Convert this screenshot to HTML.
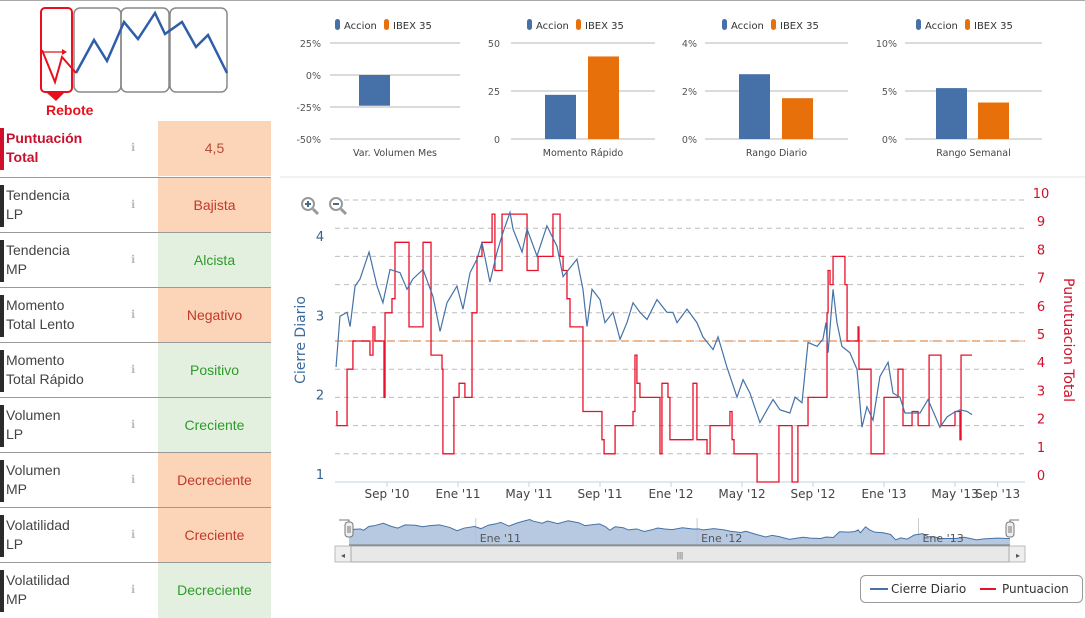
<!DOCTYPE html>
<html><head><meta charset="utf-8">
<style>
html,body{margin:0;padding:0;background:#fff;}
body{width:1085px;height:609px;position:relative;overflow:hidden;font-family:"Liberation Sans","DejaVu Sans",sans-serif;}
.row{position:absolute;left:0;width:271px;height:55px;border-top:1px solid #9a9a9a;}
.bar{position:absolute;left:0;top:7px;width:4px;height:42px;background:#2b2b2b;}
.lbl{position:absolute;left:6px;top:8px;line-height:19px;color:#444;font-family:"Liberation Sans",sans-serif;font-size:14px;}
.info{position:absolute;left:131px;top:20px;font-size:11px;color:#bbb;}
.val{position:absolute;left:158px;top:0;width:113px;height:55px;line-height:55px;text-align:center;font-family:"Liberation Sans",sans-serif;font-size:14px;}
.neg{background:#fcd5b8;color:#c0392b;}
.pos{background:#e3f0df;color:#2e9a2a;}
</style></head><body>
<div style="position:absolute;left:0;top:0;width:1085px;height:1px;background:#aaa"></div>

<svg style="position:absolute;left:0;top:0" width="240" height="120">
<rect x="74" y="8" width="47" height="84" rx="6" fill="none" stroke="#888" stroke-width="1.5"/>
<rect x="121" y="8" width="48" height="84" rx="6" fill="none" stroke="#888" stroke-width="1.5"/>
<rect x="170" y="8" width="57" height="84" rx="6" fill="none" stroke="#888" stroke-width="1.5"/>
<rect x="41" y="8" width="31" height="84" rx="4" fill="none" stroke="#e8101c" stroke-width="2"/>
<polygon points="47,93 64,93 56,101" fill="#e8101c"/>
<polyline points="76,73 94,40 107,61 124,22 138,39 155,13 165,34 182,22 196,47 208,35 227,73" fill="none" stroke="#2f5ea8" stroke-width="2.5"/>
<polyline points="42,50 55,82 62,57 76,73" fill="none" stroke="#e8101c" stroke-width="2"/>
<line x1="43" y1="52" x2="65" y2="52" stroke="#e8101c" stroke-width="1.3"/>
<polygon points="67,52 62,49 62,55" fill="#e8101c"/>
<text x="46" y="115" font-size="14" font-weight="bold" fill="#e8101c" font-family="Liberation Sans, sans-serif">Rebote</text>
</svg>

<div class="row" style="top:121px;border-top:none">
 <div class="bar" style="background:#d0102a"></div>
 <div class="lbl" style="color:#c8102e;font-weight:bold;font-size:14px">Puntuación<br>Total</div>
 <div class="info">ℹ</div>
 <div class="val neg" style="color:#b84a3a">4,5</div>
</div>
<div class="row" style="top:177px"><div class="bar"></div><div class="lbl">Tendencia<br>LP</div><div class="info">ℹ</div><div class="val neg">Bajista</div></div>
<div class="row" style="top:232px"><div class="bar"></div><div class="lbl">Tendencia<br>MP</div><div class="info">ℹ</div><div class="val pos">Alcista</div></div>
<div class="row" style="top:287px"><div class="bar"></div><div class="lbl">Momento<br>Total Lento</div><div class="info">ℹ</div><div class="val neg">Negativo</div></div>
<div class="row" style="top:342px"><div class="bar"></div><div class="lbl">Momento<br>Total Rápido</div><div class="info">ℹ</div><div class="val pos">Positivo</div></div>
<div class="row" style="top:397px"><div class="bar"></div><div class="lbl">Volumen<br>LP</div><div class="info">ℹ</div><div class="val pos">Creciente</div></div>
<div class="row" style="top:452px"><div class="bar"></div><div class="lbl">Volumen<br>MP</div><div class="info">ℹ</div><div class="val neg">Decreciente</div></div>
<div class="row" style="top:507px"><div class="bar"></div><div class="lbl">Volatilidad<br>LP</div><div class="info">ℹ</div><div class="val neg">Creciente</div></div>
<div class="row" style="top:562px"><div class="bar"></div><div class="lbl">Volatilidad<br>MP</div><div class="info">ℹ</div><div class="val pos">Decreciente</div></div>

<svg id="main" style="position:absolute;left:0;top:0" width="1085" height="609"></svg>

<script>
// ---- small bar charts data ----
const smallTitles = ["Var. Volumen Mes","Momento Rápido","Rango Diario","Rango Semanal"];
const smallAccion = [-24, 23, 2.7, 5.3];
const smallIbex = [null, 43, 1.7, 3.8];
const smallTicks = [[25,0,-25,-50],[50,25,0],[4,2,0],[10,5,0]];
const smallTickSuffix = ["%","","%","%"];

// ---- main chart data (months from Sep 2010) ----
const cierreMonths = [-2.87,-2.65,-2.25,-2.08,-1.8,-1.52,-1.01,-0.56,-0.23,0.17,0.73,1.13,1.46,2.03,2.59,2.99,3.38,3.94,4.28,4.68,5.07,5.35,5.8,6.2,6.54,6.93,7.1,7.61,7.89,8.45,9.01,9.58,9.92,10.7,11.04,11.27,11.55,12.0,12.28,12.73,13.13,13.52,13.86,14.25,14.65,15.21,15.77,16.11,16.34,16.9,17.46,17.8,18.37,18.65,19.15,19.72,20.06,20.45,21.01,21.41,21.75,22.14,22.7,22.99,23.38,23.72,24.23,24.56,24.73,24.85,25.13,25.35,25.63,26.08,26.48,26.76,27.04,27.38,27.77,28.23,28.51,28.9,29.18,29.63,30.03,30.48,31.15,31.55,31.89,32.28,32.68,32.96];
const cierreValues = [2.45,3.09,3.14,2.96,3.47,3.56,3.9,3.47,3.26,3.68,3.64,3.43,3.56,3.68,3.34,2.9,3.26,3.47,3.18,3.64,3.81,4.02,3.52,3.9,4.15,4.4,4.19,3.9,4.19,3.85,4.23,3.97,3.59,3.81,3.43,2.96,3.43,3.3,3.01,3.14,2.8,3.01,3.26,3.14,3.05,3.3,3.14,3.14,3.01,3.18,3.01,2.83,2.67,2.83,2.45,2.07,2.29,2.12,1.75,1.91,2.04,1.91,1.87,2.07,2.0,2.76,2.71,2.8,3.01,2.63,3.43,3.01,2.71,2.63,2.42,1.69,1.95,1.78,2.33,2.51,2.12,2.07,1.87,1.87,1.87,2.04,1.69,1.82,1.87,1.91,1.89,1.85];
const puntMonths = [-2.87,-2.82,-2.25,-1.92,-0.96,-0.79,-0.68,-0.17,-0.11,0.28,0.45,1.24,2.03,2.48,3.1,3.15,3.77,4.06,4.39,4.79,5.07,5.35,5.92,6.08,6.48,7.89,8.51,9.35,9.75,9.92,10.14,10.31,11.04,12.11,12.23,12.85,13.86,13.97,14.08,14.25,15.38,15.49,15.83,15.94,17.24,17.46,18.03,18.2,19.32,19.44,19.55,20.85,22.08,22.82,23.15,23.72,24.79,24.85,24.96,25.13,25.8,25.92,26.54,26.59,27.27,28.0,28.79,29.07,29.58,29.92,30.54,31.21,32.0,32.28,32.34];
const puntValues = [2.5,2,4,5,4.5,5.5,5,3,6,6.5,8.5,5.5,8.5,4.5,4,1,3,3.5,3,6,8,8.5,9.5,7.5,9.5,7.5,8,9.5,8,7.5,6.5,5.5,2.5,1.5,1,2,2.5,4.5,3.5,3,1,3.5,3,1.5,3.5,1.5,1,2,2.5,1.5,1,0,2,0,2,3,6,7.5,7,8,7,5,5.5,4,1,3,4,2,2.5,2,4.5,2,2.5,1.5,4.5];
const puntEnd = 32.96;
const xTickMonths = [0,4,8,12,16,20,24,28,32,34.4];
const xTickLabels = ["Sep '10","Ene '11","May '11","Sep '11","Ene '12","May '12","Sep '12","Ene '13","May '13","Sep '13"];
const leftTicks = [1,2,3,4];
const rightTicks = [0,1,2,3,4,5,6,7,8,9,10];
const refLine = 5;
const navLabelMonths = [4,16,28];
const navLabels = ["Ene '11","Ene '12","Ene '13"];

const NS="http://www.w3.org/2000/svg";
const svg=document.getElementById('main');
function mk(tag,attrs,parent){const e=document.createElementNS(NS,tag);for(const k in attrs)e.setAttribute(k,attrs[k]);(parent||svg).appendChild(e);return e;}
function txt(x,y,s,attrs,parent){const e=mk('text',Object.assign({x:x,y:y},attrs),parent);e.textContent=s;return e;}

// ---- small charts ----
const smallGeom=[{x0:330,x1:460,lab:321,leg:335,bA:359,bI:null},{x0:511,x1:655,lab:500,leg:527,bA:545,bI:588},{x0:705,x1:848,lab:697,leg:722,bA:739,bI:782},{x0:905,x1:1042,lab:897,leg:916,bA:936,bI:978}];
smallGeom.forEach((g,i)=>{
  const ticks=smallTicks[i];const tmax=ticks[0],tmin=ticks[ticks.length-1];
  const yTop=43,yBot=139;
  const ys=v=>yTop+(tmax-v)/(tmax-tmin)*(yBot-yTop);
  const grp=mk('g',{});
  
  
  ticks.forEach(t=>{
    const l=mk('line',{x1:g.x0,x2:g.x1,y1:ys(t),y2:ys(t),stroke:'#cfcfcf','stroke-width':1.5},grp);
    
    
    const tt=txt(g.lab,ys(t)+4,t+smallTickSuffix[i],{'text-anchor':'end','font-size':9.5,fill:'#555','font-family':'DejaVu Sans, sans-serif'},grp);
    
    
  });
  const base=ys(Math.max(tmin,Math.min(0,tmax)));
  const va=smallAccion[i];
  const ba=mk('rect',{x:g.bA,width:31,y:Math.min(ys(va),base),height:Math.abs(ys(va)-base),fill:'#4570a8'},grp);
  
  
  if(smallIbex[i]!==null){
    const vi=smallIbex[i];
    const bi=mk('rect',{x:g.bI,width:31,y:Math.min(ys(vi),base),height:Math.abs(ys(vi)-base),fill:'#e8700a'},grp);
    
    
  }
  const c=txt((g.x0+g.x1)/2,156,smallTitles[i],{'text-anchor':'middle','font-size':9.5,fill:'#444','font-family':'DejaVu Sans, sans-serif'},grp);
  
  
  const lg=mk('g',{},grp);
  
  
  mk('rect',{x:g.leg,y:19,width:5,height:11,rx:2.5,fill:'#4570a8'},lg);
  txt(g.leg+9,29,'Accion',{'font-size':10,fill:'#333','font-family':'DejaVu Sans, sans-serif'},lg);
  mk('rect',{x:g.leg+49,y:19,width:5,height:11,rx:2.5,fill:'#e8700a'},lg);
  txt(g.leg+58,29,'IBEX 35',{'font-size':10,fill:'#333','font-family':'DejaVu Sans, sans-serif'},lg);
});
const sep=mk('line',{x1:280,x2:1085,y1:177,y2:177,stroke:'#e4e4e4'});



// ---- main chart axes ----
const PX0=335,PX1=1025,PBOT=482;
const xM=m=>387+m*17.75;
const yL=v=>PBOT-(v-1)*79.3;
const yR=v=>PBOT-v*28.2;
rightTicks.forEach(t=>{
  if(t>0){const l=mk('line',{x1:PX0,x2:PX1,y1:yR(t),y2:yR(t),stroke:'#bdbdbd','stroke-dasharray':'5,4'});
  
  }
  const tl=txt(1041,yR(t)-2,String(t),{'text-anchor':'middle','font-size':13,fill:'#d0102a','font-family':'DejaVu Sans, sans-serif'});
  
  
});
leftTicks.forEach(t=>{
  const tl=txt(320,yL(t)-3,String(t),{'text-anchor':'middle','font-size':13,fill:'#3a5f8f','font-family':'DejaVu Sans, sans-serif'});
  
  
});
const ref=mk('line',{x1:PX0,x2:PX1,y1:yR(refLine),y2:yR(refLine),stroke:'#f0b890','stroke-width':2,'stroke-dasharray':'8,5'});


const xa=mk('line',{x1:PX0,x2:PX1,y1:PBOT,y2:PBOT,stroke:'#c0d0e0'});


xTickMonths.forEach((m,i)=>{
  const x=xM(m);
  mk('line',{x1:x,x2:x,y1:PBOT,y2:PBOT+5,stroke:'#c0d0e0'});
  const tl=txt(x,498,xTickLabels[i],{'text-anchor':'middle','font-size':12,fill:'#444','font-family':'DejaVu Sans, sans-serif'});
  
  
});
const t1=txt(0,0,'Cierre Diario',{transform:'translate(305,340) rotate(-90)','text-anchor':'middle','font-size':14,fill:'#3a6aa0','font-family':'DejaVu Sans, sans-serif'});


const t2=txt(0,0,'Punutuacion Total',{transform:'translate(1064,340) rotate(90)','text-anchor':'middle','font-size':14,fill:'#d0102a','font-family':'DejaVu Sans, sans-serif'});



// series
let d='';
puntMonths.forEach((m,i)=>{
  const x=xM(m),y=yR(puntValues[i]);
  if(i===0)d+='M'+x+','+y;else d+=' H'+x+' V'+y;
});
d+=' H'+xM(puntEnd);
const red=mk('path',{d:d,fill:'none',stroke:'#e8102a','stroke-width':1.3});


const bl=mk('polyline',{points:cierreMonths.map((m,i)=>xM(m)+','+yL(cierreValues[i])).join(' '),fill:'none',stroke:'#4572a7','stroke-width':1.2});



// zoom icons
[309,337].forEach((x,i)=>{
  const g=mk('g',{});
  
  
  mk('line',{x1:x+4,y1:209,x2:x+9,y2:214,stroke:'#999','stroke-width':3},g);
  mk('circle',{cx:x-1,cy:204,r:6,fill:'#fff',stroke:'#999','stroke-width':2},g);
  mk('line',{x1:x-4,x2:x+2,y1:204,y2:204,stroke:'#4a6a8a','stroke-width':2},g);
  if(i===0)mk('line',{x1:x-1,x2:x-1,y1:201,y2:207,stroke:'#4a6a8a','stroke-width':2},g);
});

// navigator
const NX0=349,NX1=1010,NB=545;
const mMin=cierreMonths[0],mMax=cierreMonths[cierreMonths.length-1];
const xN=m=>NX0+(m-mMin)/(mMax-mMin)*(NX1-NX0);
const yN=v=>NB-(v-1)*7.5;
const nav=mk('g',{});


navLabelMonths.forEach((m,i)=>{
  mk('line',{x1:xN(m),x2:xN(m),y1:518,y2:NB,stroke:'#ccc'},nav);
});
const pts=cierreMonths.map((m,i)=>xN(m)+','+yN(cierreValues[i]));
mk('polygon',{points:NX0+','+NB+' '+pts.join(' ')+' '+NX1+','+NB,fill:'#a9bfdc','fill-opacity':0.85},nav);
mk('polyline',{points:pts.join(' '),fill:'none',stroke:'#4572a7','stroke-width':1},nav);
navLabels.forEach((s,i)=>txt(xN(navLabelMonths[i])+4,542,s,{'font-size':11,fill:'#555','font-family':'DejaVu Sans, sans-serif'},nav));
mk('line',{x1:NX0,x2:NX1,y1:NB,y2:NB,stroke:'#777'},nav);
mk('path',{d:'M339,520 H349 V530 M1010,530 V520 H1019',fill:'none',stroke:'#777'},nav);
[NX0,NX1].forEach(x=>{mk('rect',{x:x-4,y:522,width:8,height:15,rx:3,fill:'#eee',stroke:'#777'},nav);mk('line',{x1:x-1,x2:x-1,y1:526,y2:533,stroke:'#777'},nav);mk('line',{x1:x+1,x2:x+1,y1:526,y2:533,stroke:'#777'},nav);});
const sb=mk('g',{});


mk('rect',{x:335,y:546,width:690,height:16,fill:'#eee',stroke:'#bbb'},sb);
mk('rect',{x:351,y:546,width:658,height:16,fill:'#e8e8e8',stroke:'#aaa'},sb);
txt(680,558,'|||',{'font-size':8,fill:'#555','text-anchor':'middle'},sb);
txt(343,558,'◂',{'font-size':8,fill:'#555','text-anchor':'middle'},sb);
txt(1018,558,'▸',{'font-size':8,fill:'#555','text-anchor':'middle'},sb);

// legend
const lg=mk('g',{});


mk('rect',{x:860.5,y:575.5,width:222,height:27,rx:5,fill:'#fff',stroke:'#999'},lg);
mk('line',{x1:870,x2:888,y1:589,y2:589,stroke:'#4572a7','stroke-width':2},lg);
txt(891,593,'Cierre Diario',{'font-size':12,fill:'#333','font-family':'DejaVu Sans, sans-serif'},lg);
mk('line',{x1:980,x2:996,y1:589,y2:589,stroke:'#e8102a','stroke-width':2},lg);
txt(1002,593,'Puntuacion',{'font-size':12,fill:'#333','font-family':'DejaVu Sans, sans-serif'},lg);
</script>
</body></html>
